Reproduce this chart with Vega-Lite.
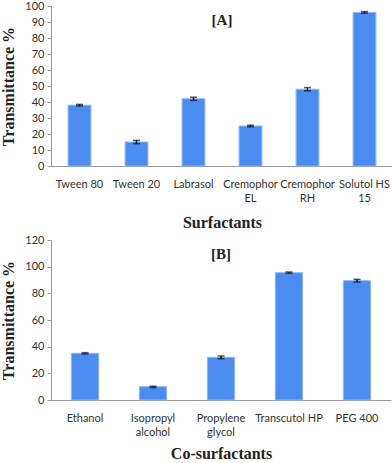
{
  "$schema": "https://vega.github.io/schema/vega-lite/v6.json",
  "padding": {"left": 0, "top": 0, "right": 0, "bottom": 0},
  "spacing": 4,
  "config": {
    "view": {"stroke": null},
    "axis": {
      "grid": false,
      "domainColor": "#9a9a9a",
      "tickColor": "#9a9a9a",
      "labelFont": "Lato",
      "labelFontSize": 11,
      "labelColor": "#333333",
      "titleFont": "Liberation Serif",
      "titleFontSize": 16,
      "titleFontWeight": "bold",
      "titleColor": "#222222"
    },
    "axisX": {"ticks": false, "labelAngle": 0, "labelPadding": 12, "titlePadding": 11, "labelLineHeight": 14},
    "axisY": {"tickSize": 4, "labelPadding": 3, "titlePadding": 8},
    "title": {"font": "Liberation Serif", "fontSize": 15, "fontWeight": "bold", "color": "#222222", "anchor": "middle"}
  },
  "vconcat": [
    {
      "width": 342,
      "height": 160,
      "title": {"text": "[A]", "offset": -28},
      "data": {"values": [
        {"name": "Tween 80", "value": 38, "lo": 37.5, "hi": 38.5},
        {"name": "Tween 20", "value": 15, "lo": 14, "hi": 16},
        {"name": "Labrasol", "value": 42, "lo": 41, "hi": 43},
        {"name": "Cremophor EL", "value": 25, "lo": 24.5, "hi": 25.5},
        {"name": "Cremophor RH", "value": 48, "lo": 47, "hi": 49},
        {"name": "Solutol HS 15", "value": 96, "lo": 95.5, "hi": 96.5}
      ]},
      "encoding": {
        "x": {
          "field": "name", "type": "nominal", "sort": null,
          "scale": {"paddingInner": 0.6, "paddingOuter": 0.3},
          "axis": {"title": "Surfactants",
            "labelExpr": "datum.label == 'Cremophor EL' ? ['Cremophor', 'EL'] : datum.label == 'Cremophor RH' ? ['Cremophor', 'RH'] : datum.label == 'Solutol HS 15' ? ['Solutol HS', '15'] : datum.label"}
        }
      },
      "layer": [
        {
          "mark": {"type": "bar", "color": "#4a8cef", "stroke": "#8cb6f6", "strokeWidth": 1},
          "encoding": {
            "y": {"field": "value", "type": "quantitative", "title": "Transmittance %",
              "scale": {"domain": [0, 100]},
              "axis": {"values": [0,10,20,30,40,50,60,70,80,90,100]}}
          }
        },
        {
          "mark": {"type": "errorbar", "ticks": {"size": 7, "thickness": 1.5}, "color": "#111122", "thickness": 1.5},
          "encoding": {
            "y": {"field": "lo", "type": "quantitative", "title": "Transmittance %",
              "axis": {"values": [0,10,20,30,40,50,60,70,80,90,100]}},
            "y2": {"field": "hi"}
          }
        }
      ]
    },
    {
      "width": 340,
      "height": 160,
      "title": {"text": "[B]", "offset": -28},
      "data": {"values": [
        {"name": "Ethanol", "value": 35, "lo": 34.5, "hi": 35.5},
        {"name": "Isopropyl alcohol", "value": 10, "lo": 9.3, "hi": 10.3},
        {"name": "Propylene glycol", "value": 32, "lo": 31, "hi": 33},
        {"name": "Transcutol HP", "value": 95.5, "lo": 95, "hi": 96},
        {"name": "PEG 400", "value": 89.5, "lo": 88.5, "hi": 90.5}
      ]},
      "encoding": {
        "x": {
          "field": "name", "type": "nominal", "sort": null,
          "scale": {"paddingInner": 0.6, "paddingOuter": 0.3},
          "axis": {"title": "Co-surfactants", "titlePadding": 8,
            "labelExpr": "datum.label == 'Isopropyl alcohol' ? ['Isopropyl', 'alcohol'] : datum.label == 'Propylene glycol' ? ['Propylene', 'glycol'] : datum.label"}
        }
      },
      "layer": [
        {
          "mark": {"type": "bar", "color": "#4a8cef", "stroke": "#8cb6f6", "strokeWidth": 1},
          "encoding": {
            "y": {"field": "value", "type": "quantitative", "title": "Transmittance %",
              "scale": {"domain": [0, 120]},
              "axis": {"values": [0,20,40,60,80,100,120]}}
          }
        },
        {
          "mark": {"type": "errorbar", "ticks": {"size": 7, "thickness": 1.5}, "color": "#111122", "thickness": 1.5},
          "encoding": {
            "y": {"field": "lo", "type": "quantitative", "title": "Transmittance %",
              "axis": {"values": [0,20,40,60,80,100,120]}},
            "y2": {"field": "hi"}
          }
        }
      ]
    }
  ]
}
